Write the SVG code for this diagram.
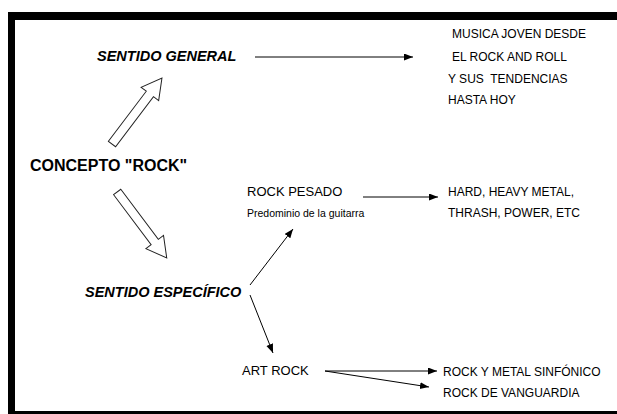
<svg xmlns="http://www.w3.org/2000/svg" width="617" height="414" viewBox="0 0 617 414">
<style>
text{font-family:"Liberation Sans",Arial,sans-serif;fill:#000;white-space:pre}
.bi{font-weight:bold;font-style:italic;font-size:14.5px}
.b{font-weight:bold;font-size:16px}
.r12{font-size:12px}
.r13{font-size:13px}
.sm{font-size:10.5px}
.conn line{stroke:#000;stroke-width:1}
.block{fill:#fff;stroke:#222;stroke-width:1}
</style>
<defs>
<marker id="ah" markerUnits="userSpaceOnUse" markerWidth="10" markerHeight="8" refX="9" refY="3.5" orient="auto">
<path d="M0,0 L9,3.5 L0,7 z" fill="#000"/>
</marker>
</defs>
<rect width="617" height="414" fill="#fff"/>
<g id="frame" fill="#000">
<rect x="8" y="12" width="609" height="8"/>
<rect x="8" y="12" width="7" height="402"/>
<rect x="8" y="411" width="609" height="3"/>
</g>
<g id="block-arrows">
<polygon class="block" transform="translate(112,144) rotate(-52.9)" points="0,-4.5 62.8,-4.5 62.8,-11 82.8,0 62.8,11 62.8,4.5 0,4.5"/>
<polygon class="block" transform="translate(117.2,192) rotate(53.1)" points="0,-4.5 62.5,-4.5 62.5,-11 82.5,0 62.5,11 62.5,4.5 0,4.5"/>
</g>
<g id="n-concepto"><text class="b" x="30" y="171">CONCEPTO "ROCK"</text></g>
<g id="n-general"><text class="bi" x="97" y="61">SENTIDO GENERAL</text></g>
<g id="n-musica">
<text class="r12" x="452" y="38">MUSICA JOVEN DESDE</text>
<text class="r12" x="452" y="61">EL ROCK AND ROLL</text>
<text class="r12" x="448" y="83">Y SUS  TENDENCIAS</text>
<text class="r12" x="448" y="104">HASTA HOY</text>
</g>
<g id="n-pesado">
<text class="r13" x="247" y="196">ROCK PESADO</text>
<text class="sm" x="247" y="217">Predominio de la guitarra</text>
</g>
<g id="n-hard">
<text class="r12" x="448" y="196">HARD, HEAVY METAL,</text>
<text class="r12" x="448" y="217">THRASH, POWER, ETC</text>
</g>
<g id="n-especifico"><text class="bi" x="85" y="297">SENTIDO ESPECÍFICO</text></g>
<g id="n-art"><text class="r13" x="242" y="375">ART ROCK</text></g>
<g id="n-sinfonico"><text class="r12" x="443" y="376">ROCK Y METAL SINFÓNICO</text></g>
<g id="n-vanguardia"><text class="r12" x="443" y="397">ROCK DE VANGUARDIA</text></g>
<g id="connectors" class="conn">
<line x1="255" y1="57" x2="413" y2="57" marker-end="url(#ah)"/>
<line x1="363" y1="197" x2="438" y2="197" marker-end="url(#ah)"/>
<line x1="250" y1="285" x2="293" y2="229" marker-end="url(#ah)"/>
<line x1="250" y1="295" x2="273" y2="353" marker-end="url(#ah)"/>
<line x1="325" y1="371" x2="437" y2="371" marker-end="url(#ah)"/>
<line x1="325" y1="371" x2="429" y2="387" marker-end="url(#ah)"/>
</g>
</svg>
